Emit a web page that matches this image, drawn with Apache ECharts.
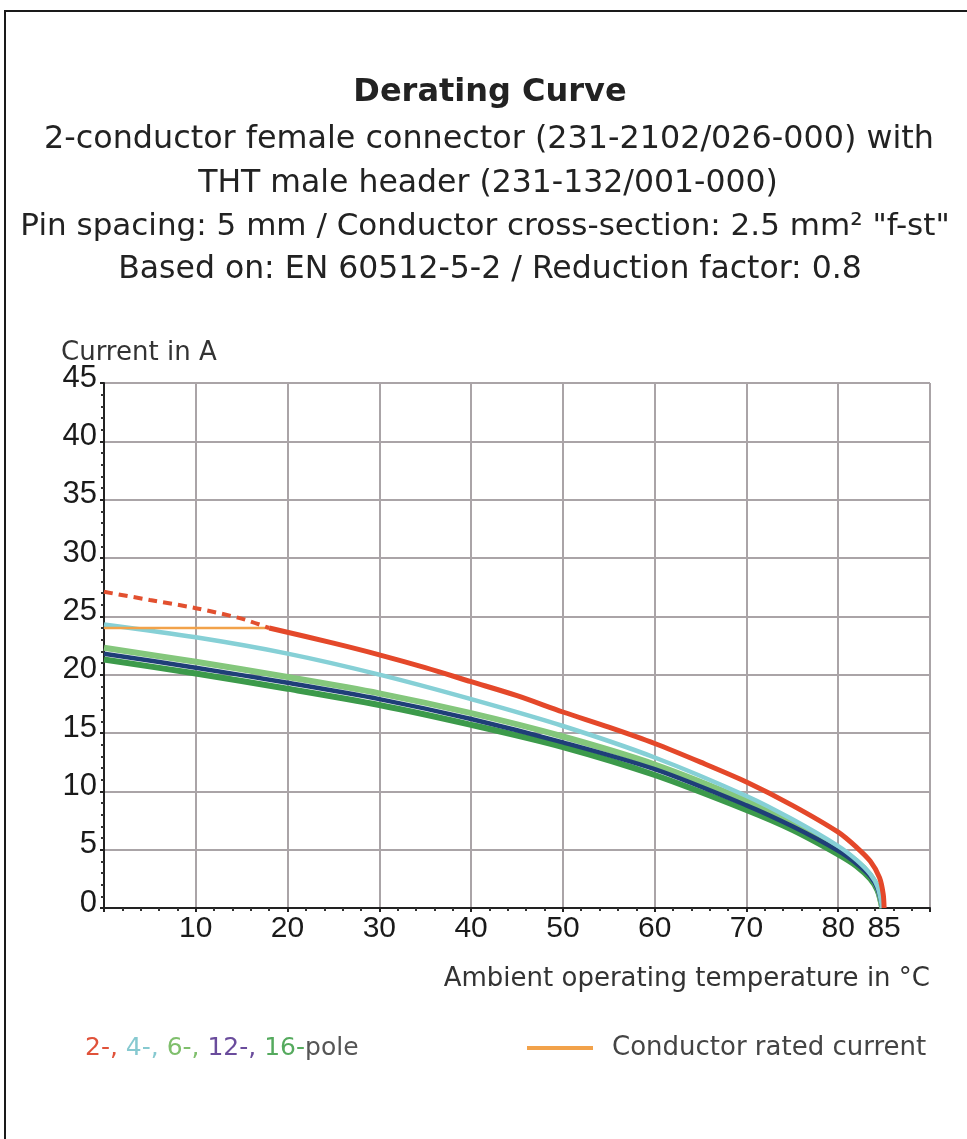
<!DOCTYPE html>
<html>
<head>
<meta charset="utf-8">
<script src="https://cdn.jsdelivr.net/npm/echarts@6/dist/echarts.min.js"></script>
<style>
html,body{margin:0;padding:0;background:#fff;}
#chart{width:967px;height:1139px;}
</style>
</head>
<body>
<div id="chart"></div>
<script>
// ---- Data ----
const titleText = 'Derating Curve';
const subtitleLines = [
  '2-conductor female connector (231-2102/026-000) with',
  'THT male header (231-132/001-000)',
  'Pin spacing: 5 mm / Conductor cross-section: 2.5 mm² "f-st"',
  'Based on: EN 60512-5-2 / Reduction factor: 0.8'
];
const xTickLabels = [10, 20, 30, 40, 50, 60, 70, 80, 85];

// 2-pole (red) solid part
const temps2 = [18, 25, 30, 35, 40, 45, 50, 55, 60, 65, 70, 75, 80, 82, 83.5, 84.5, 84.9, 85];
const pole2  = [24.0, 22.7, 21.7, 20.6, 19.4, 18.2, 16.8, 15.5, 14.1, 12.5, 10.8, 8.8, 6.5, 5.2, 4.0, 2.6, 1.2, 0];
// 2-pole (red) dashed extension (above rated current)
const temps2Ext = [0, 5, 10, 15, 18];
const pole2Ext  = [27.1, 26.4, 25.7, 24.8, 24.0];
// conductor rated current (orange)
const tempsRated = [0, 18];
const ratedCurrent = [24.0, 24.0];
// 4-pole (light blue)
const temps4 = [0, 10, 20, 30, 40, 50, 60, 70, 75, 80, 82, 83.5, 84.3, 84.8];
const pole4  = [24.3, 23.2, 21.8, 20.0, 17.9, 15.6, 12.9, 9.6, 7.6, 5.3, 4.1, 2.9, 1.8, 0];
// 6-pole (light green)
const temps6 = [0, 10, 20, 30, 40, 50, 60, 70, 75, 80, 82, 83.5, 84.3, 84.8];
const pole6  = [22.3, 21.1, 19.8, 18.4, 16.7, 14.7, 12.3, 9.2, 7.3, 5.1, 4.0, 2.8, 1.7, 0];
// 12-pole (navy)
const temps12 = [0, 10, 20, 30, 40, 50, 60, 70, 75, 80, 82, 83.5, 84.3, 84.8];
const pole12  = [21.8, 20.6, 19.3, 17.9, 16.2, 14.2, 11.9, 8.8, 7.0, 4.9, 3.8, 2.7, 1.6, 0];
// 16-pole (dark green)
const temps16 = [0, 10, 20, 30, 40, 50, 60, 70, 75, 80, 82, 83.5, 84.3, 84.8];
const pole16  = [21.3, 20.1, 18.8, 17.4, 15.7, 13.8, 11.4, 8.4, 6.7, 4.6, 3.6, 2.5, 1.5, 0];

const pairs = (xs, ys) => xs.map((x, i) => [x, ys[i]]);

const textFont = '"DejaVu Sans"';
const numFont = '"Liberation Sans"';
const chart = echarts.init(document.getElementById('chart'), null, {renderer: 'canvas'});

const lineSeries = (name, xs, ys, color, width, z, type) => ({
  name: name, type: 'line', data: pairs(xs, ys), showSymbol: false,
  smooth: 0.3,
  lineStyle: {color: color, width: width, type: type || 'solid', cap: 'butt'},
  itemStyle: {color: color}, z: z, silent: true, animation: false
});

chart.setOption({
  animation: false,
  backgroundColor: '#ffffff',
  grid: {left: 104, right: 37, top: 383, bottom: 231, containLabel: false},
  legend: {
    data: ['Conductor rated current'],
    left: 527, top: 1035, padding: 0,
    icon: 'rect', itemWidth: 66, itemHeight: 4, itemGap: 20,
    textStyle: {fontFamily: textFont, fontSize: 26, color: '#444', padding: [0, 0, 0, 14]},
    selectedMode: false
  },
  xAxis: {
    type: 'value', min: 0, max: 90, interval: 10,
    axisLine: {show: true, onZero: false, lineStyle: {color: '#222', width: 2}},
    axisTick: {show: true, length: 4, inside: false, lineStyle: {color: '#222', width: 2}},
    minorTick: {show: true, splitNumber: 5, length: 3, lineStyle: {color: '#333', width: 2}},
    axisLabel: {
      customValues: xTickLabels,
      fontFamily: numFont, fontSize: 30, color: '#1a1a1a', margin: 6
    },
    splitLine: {show: true, lineStyle: {color: '#aaa4a7', width: 2}}
  },
  yAxis: {
    type: 'value', min: 0, max: 45, interval: 5,
    axisLine: {show: true, lineStyle: {color: '#222', width: 2}},
    axisTick: {show: true, length: 4, lineStyle: {color: '#222', width: 2}},
    minorTick: {show: true, splitNumber: 5, length: 3, lineStyle: {color: '#333', width: 2}},
    axisLabel: {fontFamily: numFont, fontSize: 31, color: '#1a1a1a', margin: 7, verticalAlign: 'bottom', lineHeight: 10},
    splitLine: {show: true, lineStyle: {color: '#aaa4a7', width: 2}}
  },
  graphic: [
    {type: 'rect', shape: {x: 5, y: 11, width: 1100, height: 1300}, style: {fill: 'none', stroke: '#1a1a1a', lineWidth: 2}, silent: true, z: 100},
    {type: 'text', x: 490, y: 93, style: {text: titleText, font: 'bold 32px ' + textFont, fill: '#222', align: 'center', verticalAlign: 'middle'}},
    {type: 'text', x: 489, y: 140, style: {text: subtitleLines[0], font: '31.8px ' + textFont, fill: '#222', align: 'center', verticalAlign: 'middle'}},
    {type: 'text', x: 488, y: 184, style: {text: subtitleLines[1], font: '31.5px ' + textFont, fill: '#222', align: 'center', verticalAlign: 'middle'}},
    {type: 'text', x: 485, y: 227, style: {text: subtitleLines[2], font: '31px ' + textFont, fill: '#222', align: 'center', verticalAlign: 'middle'}},
    {type: 'text', x: 490, y: 270, style: {text: subtitleLines[3], font: '31.5px ' + textFont, fill: '#222', align: 'center', verticalAlign: 'middle'}},
    {type: 'text', x: 61, y: 353, style: {text: 'Current in A', font: '26px ' + textFont, fill: '#333', align: 'left', verticalAlign: 'middle'}},
    {type: 'text', x: 930, y: 979, style: {text: 'Ambient operating temperature in °C', font: '26px ' + textFont, fill: '#333', align: 'right', verticalAlign: 'middle'}},
    {type: 'text', x: 85, y: 1048, style: {
      text: '{r|2-,} {b|4-,} {g|6-,} {p|12-,} {d|16-}{k|pole}',
      verticalAlign: 'middle', align: 'left',
      font: '25px ' + textFont,
      rich: {
        r: {fill: '#e0523a', font: '25px ' + textFont},
        b: {fill: '#86c9d0', font: '25px ' + textFont},
        g: {fill: '#7fbf6c', font: '25px ' + textFont},
        p: {fill: '#6a4c9c', font: '25px ' + textFont},
        d: {fill: '#55aa5e', font: '25px ' + textFont},
        k: {fill: '#555', font: '25px ' + textFont}
      }
    }}
  ],
  series: [
    lineSeries('16-pole', temps16, pole16, '#3c9a4b', 6, 2),
    lineSeries('6-pole', temps6, pole6, '#84c77c', 6, 3),
    lineSeries('12-pole', temps12, pole12, '#1f3f78', 4.5, 4),
    lineSeries('4-pole', temps4, pole4, '#86d0d6', 4.5, 5),
    lineSeries('Conductor rated current', tempsRated, ratedCurrent, '#f2a24a', 2.5, 6),
    lineSeries('2-pole rated', temps2Ext, pole2Ext, '#e2502f', 4, 7, [9, 6]),
    lineSeries('2-pole', temps2, pole2, '#e4482a', 5, 8)
  ]
});
</script>
</body>
</html>
